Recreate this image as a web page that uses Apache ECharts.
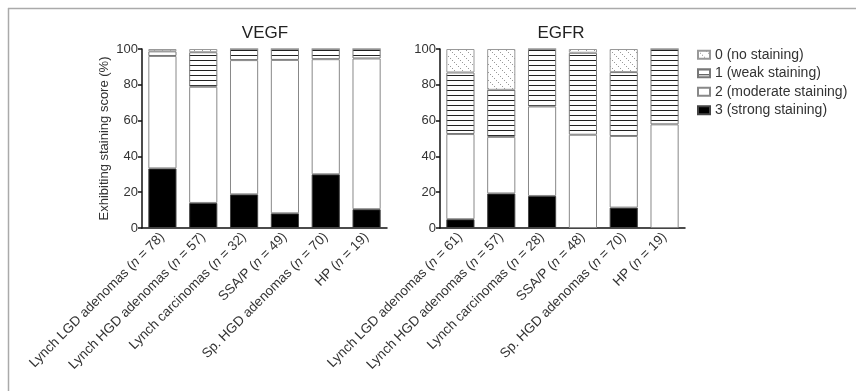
<!DOCTYPE html>
<html>
<head>
<meta charset="utf-8">
<script src="https://cdn.jsdelivr.net/npm/echarts@6/dist/echarts.min.js"></script>
<style>
html,body{margin:0;padding:0;background:#fff;}
#chart{width:856px;height:391px;}
</style>
</head>
<body>
<div id="chart"></div>
<script>
// ---- data ----
var vegfGroups = ['Lynch LGD adenomas', 'Lynch HGD adenomas', 'Lynch carcinomas', 'SSA/P', 'Sp. HGD adenomas', 'HP'];
var vegfN = [78, 57, 32, 49, 70, 19];
var egfrGroups = ['Lynch LGD adenomas', 'Lynch HGD adenomas', 'Lynch carcinomas', 'SSA/P', 'Sp. HGD adenomas', 'HP'];
var egfrN = [61, 57, 28, 48, 70, 19];

var vegfStrong   = [33.3, 14.0, 18.8, 8.2, 30.0, 10.5];
var vegfModerate = [62.8, 64.9, 75.0, 85.7, 64.3, 84.2];
var vegfWeak     = [2.6, 19.3, 6.2, 6.1, 5.7, 5.3];
var vegfNone     = [1.3, 1.8, 0, 0, 0, 0];

var egfrStrong   = [4.9, 19.3, 17.9, 0, 11.4, 0];
var egfrModerate = [47.6, 31.6, 50.0, 52.1, 40.0, 57.9];
var egfrWeak     = [34.4, 26.3, 32.1, 45.8, 35.7, 42.1];
var egfrNone     = [13.1, 22.8, 0, 2.1, 12.9, 0];

var yTicks = [0, 20, 40, 60, 80, 100];
var scoreNames = ['0 (no staining)', '1 (weak staining)', '2 (moderate staining)', '3 (strong staining)'];
var panelTitles = ['VEGF', 'EGFR'];
var yAxisTitle = 'Exhibiting staining score (%)';

// ---- patterns ----
function hPattern() {
  var c = document.createElement('canvas');
  c.width = 4; c.height = 5;
  var g = c.getContext('2d');
  g.fillStyle = '#fff'; g.fillRect(0, 0, 4, 5);
  g.fillStyle = '#222'; g.fillRect(0, 0, 4, 1);
  return c;
}
function dPattern() {
  var c = document.createElement('canvas');
  c.width = 8; c.height = 8;
  var g = c.getContext('2d');
  g.fillStyle = '#fff'; g.fillRect(0, 0, 8, 8);
  g.fillStyle = '#999';
  for (var i = 0; i < 8; i += 2) g.fillRect(i, i, 1, 1);
  return c;
}
var weakFill = { image: hPattern(), repeat: 'repeat' };
var noneFill = { image: dPattern(), repeat: 'repeat' };

var FONT = '"Liberation Sans", Arial, Helvetica, sans-serif';

function cats(groups, ns) {
  return groups.map(function (g, i) { return g + ' (n = ' + ns[i] + ')'; });
}
function labelFmt(v) {
  return v.replace('(n =', '({i|n} =');
}

var styles = [
  { name: scoreNames[3], color: '#000', border: '#444' },
  { name: scoreNames[2], color: '#fff', border: '#888' },
  { name: scoreNames[1], color: weakFill, border: '#777' },
  { name: scoreNames[0], color: noneFill, border: '#999' }
];

function makeSeries(idx, arrs) {
  return arrs.map(function (arr, k) {
    return {
      name: styles[k].name,
      type: 'bar',
      stack: 'p' + idx,
      xAxisIndex: idx,
      yAxisIndex: idx,
      barCategoryGap: '31%',
      data: arr,
      itemStyle: { color: styles[k].color, borderColor: styles[k].border, borderWidth: 1 },
      emphasis: { disabled: true },
      animation: false
    };
  });
}

function xAxisCfg(idx, data) {
  return {
    type: 'category', gridIndex: idx, data: data,
    axisLine: { lineStyle: { color: '#111', width: 1.5 } },
    axisTick: { alignWithLabel: true, length: 4, lineStyle: { color: '#111', width: 1.5 } },
    axisLabel: {
      rotate: 45, interval: 0, fontSize: 13.5, color: '#333', fontFamily: FONT, margin: 7,
      formatter: labelFmt,
      rich: { i: { fontStyle: 'italic', fontSize: 13.5, color: '#333', fontFamily: FONT } }
    }
  };
}
function yAxisCfg(idx, named) {
  var c = {
    type: 'value', gridIndex: idx, min: yTicks[0], max: yTicks[yTicks.length - 1], interval: yTicks[1] - yTicks[0],
    axisLine: { show: true, lineStyle: { color: '#111', width: 1.5 } },
    axisTick: { show: true, length: 4, lineStyle: { color: '#111', width: 1.5 } },
    splitLine: { show: false },
    axisLabel: { fontSize: 13, color: '#333', fontFamily: FONT, margin: 4 }
  };
  if (named) {
    c.name = yAxisTitle;
    c.nameLocation = 'middle';
    c.nameGap = 31;
    c.nameTextStyle = { fontSize: 13, color: '#333', fontFamily: FONT };
  }
  return c;
}

var chart = echarts.init(document.getElementById('chart'), null, { renderer: 'canvas' });
var option = {
  backgroundColor: '#fff',
  animation: false,
  grid: [
    { left: 142, width: 245, top: 49, height: 179 },
    { left: 440, width: 245, top: 49, height: 179 }
  ],
  xAxis: [xAxisCfg(0, cats(vegfGroups, vegfN)), xAxisCfg(1, cats(egfrGroups, egfrN))],
  yAxis: [yAxisCfg(0, true), yAxisCfg(1, false)],
  legend: {
    orient: 'vertical', left: 697, top: 47, padding: 0,
    icon: 'rect',
    itemWidth: 12, itemHeight: 8, itemGap: 3,
    data: [scoreNames[0], scoreNames[1], scoreNames[2], scoreNames[3]],
    textStyle: { fontSize: 14, color: '#333', fontFamily: FONT, lineHeight: 15.5 },
    selectedMode: false
  },
  series: makeSeries(0, [vegfStrong, vegfModerate, vegfWeak, vegfNone])
    .concat(makeSeries(1, [egfrStrong, egfrModerate, egfrWeak, egfrNone])),
  graphic: [
    { type: 'line', shape: { x1: 8, y1: 8.5, x2: 856, y2: 8.5 }, style: { stroke: '#aaa', lineWidth: 1.5 }, silent: true },
    { type: 'line', shape: { x1: 8.5, y1: 8, x2: 8.5, y2: 391 }, style: { stroke: '#aaa', lineWidth: 1.5 }, silent: true },
    { type: 'text', x: 265, y: 33, style: { text: panelTitles[0], fontSize: 17, fontFamily: FONT, fill: '#222', textAlign: 'center', textVerticalAlign: 'middle' }, silent: true },
    { type: 'text', x: 561, y: 33, style: { text: panelTitles[1], fontSize: 17, fontFamily: FONT, fill: '#222', textAlign: 'center', textVerticalAlign: 'middle' }, silent: true }
  ]
};
chart.setOption(option);
</script>
</body>
</html>
